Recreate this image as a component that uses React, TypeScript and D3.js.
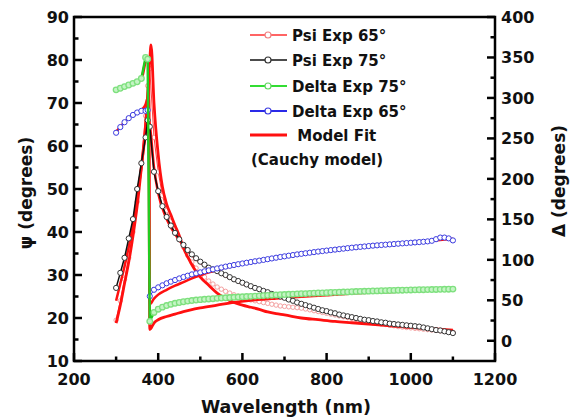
import React from "react";
import * as d3 from "d3";

// ---------- axes / ticks ----------
const xTicks = [200, 400, 600, 800, 1000, 1200];
const xMinor = [300, 500, 700, 900, 1100];
const psiTicks = [10, 20, 30, 40, 50, 60, 70, 80, 90];
const psiMinor = [15, 25, 35, 45, 55, 65, 75, 85];
const deltaTicks = [0, 50, 100, 150, 200, 250, 300, 350, 400];
const deltaMinor = [25, 75, 125, 175, 225, 275, 325, 375];

// ---------- measured data (wavelength grid) ----------
const wlData = [300, 310, 320, 330, 340, 350, 360, 370, 375, 380, 390, ...d3.range(400, 1101, 10)];

const psi75 = [
  27, 30.5, 34, 38.5, 43, 50, 56, 62, 66, 64.5, 54,
  49.5, 46, 43.5, 41.5, 39.8, 38.3, 37, 35.8, 34.8, 33.9,
  33.1, 32.4, 31.7, 31.3, 30.9, 30.4, 30.0, 29.5, 29.0, 28.6,
  28.2, 27.8, 27.4, 27.0, 26.7, 26.3, 26.0, 25.6, 25.3, 25.0,
  24.7, 24.3, 24.0, 23.6, 23.3, 23.0, 22.7, 22.4, 22.1, 21.8,
  21.6, 21.3, 21.1, 20.8, 20.6, 20.4, 20.2, 20.0, 19.8, 19.6,
  19.5, 19.3, 19.2, 19.0, 18.9, 18.7, 18.6, 18.5, 18.4, 18.3,
  18.2, 18.1, 18.0, 17.8, 17.6, 17.4, 17.2, 17.1, 16.9, 16.7, 16.5,
];

const psi65 = [
  19.5, 24, 29, 34, 40, 47, 56, 67, 74, 78, 62,
  54, 48.5, 45, 42.5, 40.5, 38.5, 36.5, 34.6, 33.0, 31.6,
  30.4, 29.5, 28.6, 27.9, 27.2, 26.7, 26.2, 25.8, 25.4, 25.1,
  24.8, 24.5, 24.2, 24.0, 23.8, 23.6, 23.4, 23.2, 23.0, 22.8,
  22.7, 22.6, 22.5, 22.4, 22.3, 22.1, 21.9, 21.7, 21.5, 21.3,
  21.1, 20.9, 20.7, 20.5, 20.3, 20.1, 19.9, 19.7, 19.5, 19.3,
  19.1, 18.9, 18.8, 18.6, 18.5, 18.3, 18.2, 18.0, 17.9, 17.8,
  17.7, 17.6, 17.5, 17.4, 17.3, 17.2, 17.1, 17.0, 16.9, 16.8, 16.7,
];

const delta75 = [
  310, 312, 314, 316, 318, 320, 324, 350, 348, 24, 35,
  39, 41.5, 43.5, 45, 46.3, 47.3, 48.2, 49, 49.7, 50.3,
  50.8, 51.2, 51.6, 52, 52.4, 52.8, 53.1, 53.4, 53.7, 54,
  54.3, 54.6, 54.9, 55.2, 55.5, 55.8, 56.1, 56.3, 56.6, 56.9,
  57.1, 57.4, 57.6, 57.9, 58.1, 58.3, 58.6, 58.8, 59, 59.2,
  59.4, 59.6, 59.8, 60, 60.2, 60.4, 60.6, 60.8, 61, 61.1,
  61.3, 61.5, 61.6, 61.8, 61.9, 62.1, 62.2, 62.4, 62.5, 62.6,
  62.8, 62.9, 63, 63.1, 63.2, 63.3, 63.4, 63.5, 63.6, 63.7, 63.8,
];

const delta65 = [
  257, 264, 270, 275, 279, 282, 284, 284, 285, 55, 63,
  66, 68.5, 71, 73, 75, 77, 78.8, 80.4, 82, 83.3,
  84.5, 85.8, 87, 88.2, 89.4, 90.5, 91.6, 92.6, 93.6, 94.6,
  95.5, 96.4, 97.3, 98.2, 99, 99.9, 100.8, 101.7, 102.6, 103.5,
  104.3, 105.1, 105.9, 106.7, 107.4, 108.1, 108.8, 109.5, 110.2, 110.8,
  111.4, 112, 112.6, 113.2, 113.8, 114.4, 115, 115.5, 116, 116.5,
  117, 117.5, 117.9, 118.3, 118.7, 119.1, 119.5, 119.9, 120.3, 120.7,
  121.1, 121.5, 121.9, 122.3, 122.8, 123.5, 125.5, 127.5, 127.5, 126.5, 124,
];

// ---------- model fits (Cauchy) ----------
const wlFitPsi65 = [300, 310, 320, 330, 340, 350, 360, 370, 375, 380, 383, 390, 400, 410, 420, 430, 440, 450, 460, 470, 480, 490, 500, 520, 540, 560, 580, 600, 620, 640, 660, 680, 700, 740, 780, 820, 860, 900, 950, 1000, 1050, 1100];
const fitPsi65 = [18.8, 23, 28, 33, 39, 46, 55, 65, 72, 80, 83.5, 70, 58, 50.5, 46.5, 44, 41.5, 39.2, 36.3, 34.2, 32.4, 30.8, 29.5, 27.6, 25.8, 24.6, 23.6, 23.0, 22.5, 22.0, 21.4, 21.0, 20.7, 20.0, 19.6, 19.2, 18.9, 18.6, 18.2, 17.8, 17.5, 17.2];

const wlFitPsi75 = [300, 310, 320, 330, 340, 350, 360, 370, 375, 380, 390, 400, 420, 440, 460, 480, 500, 550, 600, 650, 700, 800, 900, 1000, 1100];
const fitPsi75 = [24, 28, 32, 36.5, 41.5, 48, 55, 63, 67, 65, 55, 49, 43, 39.5, 36.8, 34.6, 32.9, 30.2, 28, 26.2, 24.5, 21.5, 19.4, 18.1, 16.6];

const wlFitDelta75 = [300, 320, 340, 360, 370, 377, 380, 390, 400, 420, 440, 460, 480, 500, 540, 580, 620, 680, 740, 800, 900, 1000, 1100];
const fitDelta75 = [309, 313, 317, 323, 345, 350, 14, 22, 26, 30, 33, 36, 38.5, 40.5, 44, 47.5, 50, 52.5, 54.5, 56.5, 59.5, 61.5, 63];

const wlFitDelta65 = [300, 320, 340, 360, 370, 375, 378, 380, 390, 400, 420, 440, 460, 480, 500, 550, 600, 700, 800, 900, 1000, 1050, 1100];
const fitDelta65 = [258, 270, 279.5, 285, 292, 300, 302, 45, 52, 57, 63, 68, 72.5, 77, 81, 89, 95, 104, 111.2, 117, 121, 123.5, 126];

// ---------- legend ----------
const legendLabels = ["Psi Exp 65°", "Psi Exp 75°", "Delta Exp 75°", "Delta Exp 65°", " Model Fit"];
const legendNote = "(Cauchy model)";

const W = 577;
const H = 417;
const FONT = "'DejaVu Sans', Arial, sans-serif";

export default function App() {
  const x = d3.scaleLinear().domain([200, 1200]).range([74, 495]);
  const yL = d3.scaleLinear().domain([10, 90]).range([361, 17]);
  const yR = d3.scaleLinear().domain([-25, 400]).range([361, 17]);

  const pts = (wl: number[], v: number[]) => wl.map((w, i) => [w, v[i]] as [number, number]);
  const lineL = d3.line<[number, number]>().x((d) => x(d[0])).y((d) => yL(d[1]));
  const lineR = d3.line<[number, number]>().x((d) => x(d[0])).y((d) => yR(d[1]));
  const fitL = d3.line<[number, number]>().x((d) => x(d[0])).y((d) => yL(d[1])).curve(d3.curveMonotoneX);
  const fitR = d3.line<[number, number]>().x((d) => x(d[0])).y((d) => yR(d[1])).curve(d3.curveMonotoneX);

  const pink = pts(wlData, psi65);
  const black = pts(wlData, psi75);
  const green = pts(wlData, delta75);
  const blue = pts(wlData, delta65);

  const RED = "#ff1010";
  const left = 74, right = 495, top = 17, bottom = 361;

  const legendRows = [35, 60, 86, 111, 135];
  const legendStyles = [
    { line: "#ff3030", mk: "#f08080", w: 1.5 },
    { line: "#111", mk: "#333", w: 1.5 },
    { line: "#33dd33", mk: "#60d860", w: 2 },
    { line: "#2a2ae8", mk: "#3a3ae0", w: 2 },
    { line: RED, mk: null, w: 3 },
  ];

  return (
    <svg width={W} height={H} style={{ position: "absolute", left: 0, top: 0, background: "#fff" }} fontFamily={FONT}>
      <rect x={0} y={0} width={W} height={H} fill="#fff" />

      {/* Psi 65 data (pink) */}
      <path d={lineL(pink) || ""} fill="none" stroke="#ff4040" strokeWidth={1} />
      {pink.map((d, i) => (
        <circle key={"p" + i} cx={x(d[0])} cy={yL(d[1])} r={2.2} fill="#fff" stroke="#f4a0a0" strokeWidth={1} />
      ))}

      {/* model fits */}
      <path d={fitL(pts(wlFitPsi75, fitPsi75)) || ""} fill="none" stroke={RED} strokeWidth={2.5} />
      <path d={fitR(pts(wlFitDelta65, fitDelta65)) || ""} fill="none" stroke={RED} strokeWidth={2.5} />
      <path d={fitR(pts(wlFitDelta75, fitDelta75)) || ""} fill="none" stroke={RED} strokeWidth={2.8} />
      <path d={fitL(pts(wlFitPsi65, fitPsi65)) || ""} fill="none" stroke={RED} strokeWidth={2.8} />

      {/* Psi 75 data (black) */}
      <path d={lineL(black) || ""} fill="none" stroke="#111" strokeWidth={1.5} />
      {black.map((d, i) => (
        <circle key={"b" + i} cx={x(d[0])} cy={yL(d[1])} r={2.6} fill="#fff" stroke="#333" strokeWidth={1} />
      ))}

      {/* Delta 65 data (blue) */}
      <path d={lineR(blue) || ""} fill="none" stroke="#2a2ae8" strokeWidth={1} />
      {blue.map((d, i) => (
        <circle key={"u" + i} cx={x(d[0])} cy={yR(d[1])} r={2.6} fill="#fff" stroke="#3a3ae0" strokeWidth={1} />
      ))}

      {/* Delta 75 data (green) */}
      <path d={lineR(green) || ""} fill="none" stroke="#22cc22" strokeWidth={2.5} />
      {green.map((d, i) => (
        <circle key={"g" + i} cx={x(d[0])} cy={yR(d[1])} r={2.8} fill="#c4f4c4" stroke="#7ee07e" strokeWidth={1.3} />
      ))}

      {/* frame */}
      <rect x={left} y={top} width={right - left} height={bottom - top} fill="none" stroke="#000" strokeWidth={2.5} />

      {/* bottom axis */}
      {xTicks.map((t) => (
        <g key={"xt" + t}>
          <line x1={x(t)} x2={x(t)} y1={bottom} y2={bottom - 8} stroke="#000" strokeWidth={2.5} />
          <text x={x(t)} y={385} textAnchor="middle" fontSize={16} fontWeight="bold" fill="#111">{t}</text>
        </g>
      ))}
      {xMinor.map((t) => (
        <line key={"xm" + t} x1={x(t)} x2={x(t)} y1={bottom} y2={bottom - 4.5} stroke="#000" strokeWidth={2.5} />
      ))}

      {/* left axis */}
      {psiTicks.map((t) => (
        <g key={"lt" + t}>
          <line x1={left} x2={left + 8} y1={yL(t)} y2={yL(t)} stroke="#000" strokeWidth={2.5} />
          <text x={69} y={yL(t)} dy="0.36em" textAnchor="end" fontSize={16} fontWeight="bold" fill="#111">{t}</text>
        </g>
      ))}
      {psiMinor.map((t) => (
        <line key={"lm" + t} x1={left} x2={left + 4.5} y1={yL(t)} y2={yL(t)} stroke="#000" strokeWidth={2.5} />
      ))}

      {/* right axis */}
      {deltaTicks.map((t) => (
        <g key={"rt" + t}>
          <line x1={right} x2={right - 8} y1={yR(t)} y2={yR(t)} stroke="#000" strokeWidth={2.5} />
          <text x={501} y={yR(t)} dy="0.36em" textAnchor="start" fontSize={16} fontWeight="bold" fill="#111">{t}</text>
        </g>
      ))}
      {deltaMinor.map((t) => (
        <line key={"rm" + t} x1={right} x2={right - 4.5} y1={yR(t)} y2={yR(t)} stroke="#000" strokeWidth={2.5} />
      ))}

      {/* axis titles */}
      <text x={286} y={413} textAnchor="middle" fontSize={17.5} fontWeight="bold" fill="#111">Wavelength (nm)</text>
      <text transform="translate(32,193) rotate(-90)" textAnchor="middle" fontSize={17} fontWeight="bold" fill="#111">ψ (degrees)</text>
      <text transform="translate(565,181) rotate(-90)" textAnchor="middle" fontSize={17} fontWeight="bold" fill="#111">Δ (degrees)</text>

      {/* legend */}
      {legendLabels.map((lab, i) => {
        const s = legendStyles[i];
        const yy = legendRows[i];
        return (
          <g key={"lg" + i}>
            <line x1={250} x2={287} y1={yy} y2={yy} stroke={s.line} strokeWidth={s.w} />
            {s.mk && <circle cx={268} cy={yy} r={3} fill="#fff" stroke={s.mk} strokeWidth={1.2} />}
            <text x={292} y={yy + 5.5} fontSize={15} fontWeight="bold" fill="#111" style={{ whiteSpace: "pre" }}>{lab}</text>
          </g>
        );
      })}
      <text x={251} y={165} fontSize={15} fontWeight="bold" fill="#111">{legendNote}</text>
    </svg>
  );
}
